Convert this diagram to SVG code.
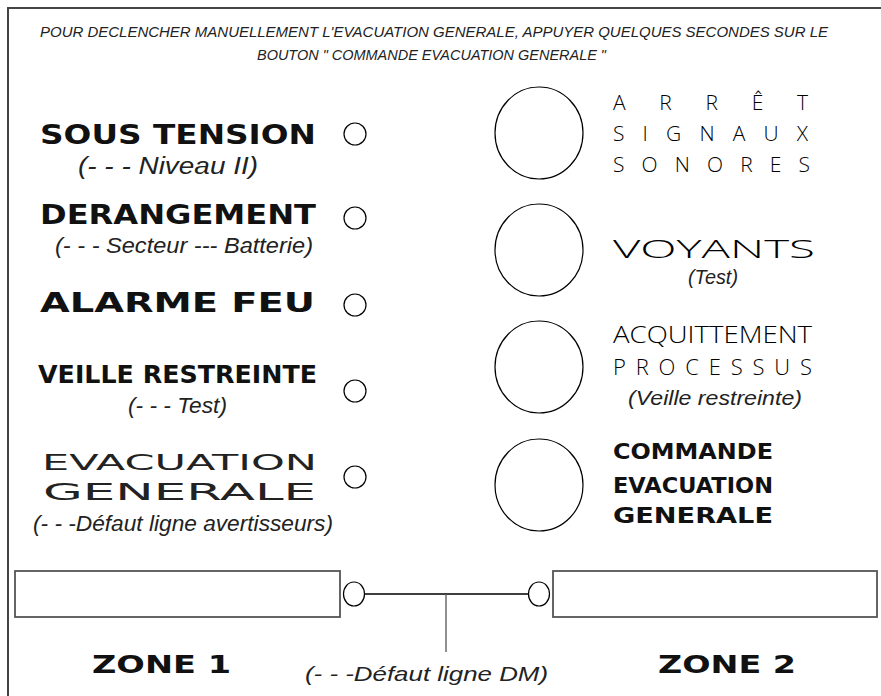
<svg xmlns="http://www.w3.org/2000/svg" width="881" height="696" viewBox="0 0 881 696">
<style>
.frame{stroke:#444;stroke-width:2;fill:none}
.led{fill:#fff;stroke:#000;stroke-width:1.2}
.btn{fill:#fff;stroke:#000;stroke-width:1.2}
.box{fill:#fff;stroke:#555;stroke-width:1.8}
.wire{stroke:#000;stroke-width:1.3;fill:none}
.wire2{stroke:#555;stroke-width:1.3;fill:none}
.heavy{font-family:"DejaVu Sans","Liberation Sans",sans-serif;font-weight:bold;fill:#111}
.wide{font-family:"DejaVu Sans","Liberation Sans",sans-serif;font-weight:normal;fill:#222}
.thin{font-family:"Open Sans","Liberation Sans",sans-serif;font-weight:300;fill:#000}
.ital{font-family:"Liberation Sans",sans-serif;font-style:italic;fill:#222}
</style>
<rect width="881" height="696" fill="#fff"/>
<g id="frame">
<path class="frame" d="M8,696 V8 H881"/>
</g>
<g id="title">
<text class="ital" x="40" y="37" font-size="15.5" textLength="788" lengthAdjust="spacingAndGlyphs">POUR DECLENCHER MANUELLEMENT L'EVACUATION GENERALE, APPUYER QUELQUES SECONDES SUR LE</text>
<text class="ital" x="257" y="60" font-size="15.5" textLength="349" lengthAdjust="spacingAndGlyphs">BOUTON " COMMANDE EVACUATION GENERALE "</text>
</g>
<g id="sous-tension">
<text class="heavy" x="40" y="144" font-size="27" textLength="276" lengthAdjust="spacingAndGlyphs">SOUS TENSION</text>
<text class="ital" x="78" y="174" font-size="23" textLength="180" lengthAdjust="spacingAndGlyphs">(- - - Niveau II)</text>
<circle class="led" cx="355" cy="134" r="11"/>
</g>
<g id="derangement">
<text class="heavy" x="40" y="224" font-size="27" textLength="276" lengthAdjust="spacingAndGlyphs">DERANGEMENT</text>
<text class="ital" x="55" y="253" font-size="22" textLength="258" lengthAdjust="spacingAndGlyphs">(- - - Secteur  --- Batterie)</text>
<circle class="led" cx="355" cy="218" r="11"/>
</g>
<g id="alarme-feu">
<text class="heavy" x="40" y="312" font-size="27" textLength="275" lengthAdjust="spacingAndGlyphs">ALARME FEU</text>
<circle class="led" cx="355" cy="305" r="11"/>
</g>
<g id="veille-restreinte">
<text class="heavy" x="38" y="383" font-size="24" textLength="279" lengthAdjust="spacingAndGlyphs">VEILLE RESTREINTE</text>
<text class="ital" x="128" y="413" font-size="22" textLength="99" lengthAdjust="spacingAndGlyphs">(- - - Test)</text>
<circle class="led" cx="355" cy="391" r="11"/>
</g>
<g id="evacuation-generale">
<text class="wide" x="42" y="470" font-size="21" textLength="275" lengthAdjust="spacingAndGlyphs">EVACUATION</text>
<text class="wide" x="43" y="500" font-size="23" textLength="273" lengthAdjust="spacingAndGlyphs">GENERALE</text>
<text class="ital" x="33" y="531" font-size="22" textLength="300" lengthAdjust="spacingAndGlyphs">(- - -Défaut ligne avertisseurs)</text>
<circle class="led" cx="355" cy="477" r="11"/>
</g>
<g id="arret-signaux">
<ellipse class="btn" cx="539" cy="133" rx="44" ry="46"/>
<text class="thin" x="613" y="110" font-size="21" textLength="195" lengthAdjust="spacing">ARRÊT</text>
<text class="thin" x="613" y="141" font-size="21" textLength="195" lengthAdjust="spacing">SIGNAUX</text>
<text class="thin" x="613" y="172" font-size="21" textLength="197" lengthAdjust="spacing">SONORES</text>
</g>
<g id="voyants">
<ellipse class="btn" cx="539" cy="250" rx="44" ry="46"/>
<text class="thin" x="613" y="258" font-size="25" textLength="202" lengthAdjust="spacingAndGlyphs">VOYANTS</text>
<text class="ital" x="688" y="284" font-size="20" textLength="50" lengthAdjust="spacingAndGlyphs">(Test)</text>
</g>
<g id="acquittement">
<ellipse class="btn" cx="539" cy="367" rx="44" ry="46"/>
<text class="thin" x="613" y="343" font-size="23" textLength="199" lengthAdjust="spacingAndGlyphs">ACQUITTEMENT</text>
<text class="thin" x="613" y="375" font-size="22" textLength="199" lengthAdjust="spacing">PROCESSUS</text>
<text class="ital" x="628" y="405" font-size="21" textLength="174" lengthAdjust="spacingAndGlyphs">(Veille restreinte)</text>
</g>
<g id="commande-evacuation">
<ellipse class="btn" cx="539" cy="485" rx="44" ry="46"/>
<text class="heavy" x="613" y="459" font-size="22" textLength="160" lengthAdjust="spacingAndGlyphs">COMMANDE</text>
<text class="heavy" x="613" y="493" font-size="22" textLength="160" lengthAdjust="spacingAndGlyphs">EVACUATION</text>
<text class="heavy" x="613" y="523" font-size="22" textLength="160" lengthAdjust="spacingAndGlyphs">GENERALE</text>
</g>
<g id="zone1">
<rect class="box" x="15" y="571" width="325" height="46"/>
<ellipse class="led" cx="354" cy="594" rx="10.5" ry="12"/>
<text class="heavy" x="92" y="673" font-size="25" textLength="139" lengthAdjust="spacingAndGlyphs">ZONE 1</text>
</g>
<g id="zone2">
<rect class="box" x="553" y="571" width="324" height="46"/>
<ellipse class="led" cx="539" cy="594" rx="10.5" ry="12"/>
<text class="heavy" x="658" y="673" font-size="25" textLength="138" lengthAdjust="spacingAndGlyphs">ZONE 2</text>
</g>
<g id="connectors">
<path class="wire" d="M365,594 H528"/>
<path class="wire2" d="M446,594 V652"/>
</g>
<g id="defaut-dm">
<text class="ital" x="305" y="681" font-size="21" textLength="243" lengthAdjust="spacingAndGlyphs">(- - -Défaut ligne DM)</text>
</g>
</svg>
